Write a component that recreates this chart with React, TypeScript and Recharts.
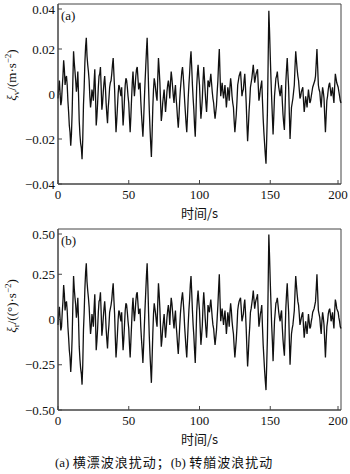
import { LineChart, Line, XAxis, YAxis, ReferenceArea } from 'recharts'

// time axis, one sample per second
const TIME = Array.from({ length: 201 }, (_, i) => i)

// (a) sway wave disturbance, in units of 0.001 m/s^2, at whole seconds
const SWAY = [
  -2, 6, -5, 3, 15, 4, 8, -3, -14, -23, -8, 19, 10, 1, 10, -12, -22, -29, -5, 14,
  25, 13, 6, -6, 2, -3, 11, -14, -4, 8, 12, -7, 1, 8, -4, -13, -2, 5, 9, 16,
  2, -17, -6, 4, 1, 3, -14, -2, 7, 3, -4, -17, -2, 10, -1, 8, 12, 2, 5, -9,
  -19, -3, 12, 25, 3, -15, -28, -6, 7, 2, -3, 16, 5, -12, -4, 2, -8, 1, 6, -2,
  10, 3, -4, 4, -6, -15, -3, 6, 12, 3, -8, -17, -2, 9, 19, 4, -7, -19, 3, 13,
  4, -11, -2, 12, 1, -8, 6, 3, 9, 1, -4, -11, -5, 6, 20, -1, 5, -2, 4, -6,
  3, -3, 7, -1, -6, -17, -9, 4, 8, 10, -1, 2, 9, -4, -21, -8, 3, 7, 13, 5,
  9, 11, -3, 2, 6, -11, -22, -31, -8, 37, 17, -2, -18, -1, 7, 10, 3, -1, 4, -9,
  -16, 5, 16, 3, -20, -6, -2, 4, 19, 11, 6, -2, 1, 3, -8, -1, -6, 2, -4, -1,
  3, 5, 8, 20, 4, 1, -6, 3, -2, -17, -3, 2, 5, -1, 3, -4, 9, 5, 3, -1,
  -4,
]
// same signal at the half seconds
const SWAY_MID = [
  3, 0, -3, 8, 11, 7, 4, -8, -17, -18, 6, 14, 6, 4, 0, -18, -24, -20, 3, 21,
  17, 10, -1, -3, 0, 5, 0, -10, 3, 9, 3, -4, 5, 3, -9, -6, 3, 6, 13, 9,
  -8, -12, 0, 3, -1, -6, -9, 4, 6, -1, -11, -10, 5, 4, 3, 11, 7, 4, -3, -14,
  -12, 5, 19, 15, -7, -22, -18, 2, 5, -1, 7, 11, -4, -9, -1, -3, -4, 4, 3, 5,
  7, -1, 1, -2, -11, -10, 2, 10, 8, -3, -13, -10, 4, 15, 12, -2, -14, -9, 9, 8,
  -4, -7, 6, 7, -4, -2, 5, 6, 5, -2, -8, -8, 1, 14, 9, 2, 1, 1, -1, -2,
  1, 3, 4, -4, -12, -13, -3, 6, 9, 5, 1, 6, 3, -13, -15, -3, 5, 10, 9, 7,
  10, 4, -1, 4, -3, -17, -27, -20, 14, 28, 7, -10, -10, 3, 8, 6, 1, 2, -3, -13,
  -6, 11, 9, -9, -13, -4, 1, 12, 15, 8, 2, -1, 2, -3, -5, -3, -2, -1, -3, 1,
  4, 6, 14, 12, 2, -3, -1, 1, -10, -10, -1, 4, 2, 1, -1, 3, 7, 4, 1, -3,
]

// (b) yaw wave disturbance, in units of 0.01 (°)/s^2, at whole seconds
const YAW = [
  -3, 7, -6, 4, 19, 5, 10, -4, -17, -29, -10, 24, 12, 1, 12, -15, -27, -36, -6, 17,
  31, 16, 7, -8, 3, -4, 14, -17, -5, 10, 15, -9, 1, 10, -5, -16, -3, 6, 11, 20,
  3, -21, -8, 5, 1, 4, -17, -3, 9, 4, -5, -21, -3, 12, -1, 10, 15, 3, 6, -11,
  -24, -4, 15, 31, 4, -19, -35, -8, 9, 3, -4, 20, 6, -15, -5, 3, -10, 1, 8, -3,
  12, 4, -5, 5, -8, -19, -4, 8, 15, 4, -10, -21, -3, 11, 24, 5, -9, -24, 4, 16,
  5, -14, -3, 15, 1, -10, 8, 4, 11, 1, -5, -14, -6, 8, 25, -1, 6, -3, 5, -8,
  4, -4, 9, -1, -8, -21, -11, 5, 10, 12, -1, 3, 11, -5, -26, -10, 4, 9, 16, 6,
  11, 14, -4, 3, 8, -14, -28, -39, -10, 47, 21, -3, -23, -1, 9, 12, 4, -1, 5, -11,
  -20, 6, 20, 4, -25, -8, -3, 5, 24, 14, 8, -3, 1, 4, -10, -1, -8, 3, -5, -1,
  4, 6, 10, 25, 5, 1, -8, 4, -3, -21, -4, 3, 6, -1, 4, -5, 11, 6, 4, -1,
  -5,
]
const YAW_MID = [
  4, 0, -4, 10, 14, 9, 5, -10, -21, -22, 8, 17, 8, 5, 0, -22, -30, -25, 4, 26,
  21, 12, -1, -4, 0, 6, 0, -12, 4, 11, 4, -5, 6, 4, -11, -8, 4, 8, 16, 11,
  -10, -15, 0, 4, -1, -8, -11, 5, 8, -1, -14, -12, 6, 5, 4, 14, 9, 5, -4, -17,
  -15, 6, 24, 19, -9, -27, -22, 3, 6, -1, 9, 14, -5, -11, -1, -4, -5, 5, 4, 6,
  9, -1, 1, -3, -14, -12, 3, 12, 10, -4, -16, -12, 5, 19, 15, -3, -17, -11, 11, 10,
  -5, -9, 8, 9, -5, -3, 6, 8, 6, -3, -10, -10, 1, 17, 11, 3, 1, 1, -1, -3,
  1, 4, 5, -5, -15, -16, -4, 8, 11, 6, 1, 8, 4, -16, -19, -4, 6, 12, 11, 9,
  12, 5, -1, 5, -4, -21, -34, -25, 17, 35, 9, -12, -12, 4, 10, 8, 1, 3, -4, -16,
  -8, 14, 11, -11, -16, -5, 1, 15, 19, 10, 3, -1, 3, -4, -6, -4, -3, -1, -4, 1,
  5, 8, 17, 15, 3, -4, -1, 1, -12, -12, -1, 5, 3, 1, -1, 4, 9, 5, 1, -4,
]

const X_TICKS = [0, 50, 100, 150, 200]
const SWAY_TICKS = [-0.04, -0.02, 0, 0.02, 0.04]
const SWAY_LABELS = ['−0.04', '−0.02', '0', '0.02', '0.04']
const YAW_TICKS = [-0.5, -0.25, 0, 0.25, 0.5]
const YAW_LABELS = ['−0.50', '−0.25', '0', '0.25', '0.50']

const SERIF = '"Liberation Serif", "Times New Roman", serif'
const CJK = '"Noto Sans CJK SC", sans-serif'
const FRAME = '#444'

function buildRows(whole: number[], mid: number[], scale: number) {
  const rows: { t: number; v: number }[] = []
  TIME.forEach((t, i) => {
    rows.push({ t, v: whole[i] * scale })
    if (i < mid.length) rows.push({ t: t + 0.5, v: mid[i] * scale })
  })
  return rows
}

const swayData = buildRows(SWAY, SWAY_MID, 0.001)
const yawData = buildRows(YAW, YAW_MID, 0.01)

const XTick = (props: any) => {
  const { x, y, payload } = props
  const axisY = y - 4
  return (
    <g>
      <line x1={x} x2={x} y1={axisY} y2={axisY - 4} stroke={FRAME} />
      <text x={x} y={axisY + 15} textAnchor="middle" fontSize={13} fontFamily={SERIF} fill="#111">
        {payload.value}
      </text>
    </g>
  )
}

const makeYTick = (ticks: number[], labels: string[]) => (props: any) => {
  const { x, y, payload } = props
  const axisX = x + 3
  const idx = ticks.indexOf(payload.value)
  return (
    <g>
      <line x1={axisX} x2={axisX + 4} y1={y} y2={y} stroke={FRAME} />
      <text x={x} y={y + 4.5} textAnchor="end" fontSize={13} fontFamily={SERIF} fill="#111">
        {labels[idx]}
      </text>
    </g>
  )
}

function Panel({ data, ticks, labels, height }: { data: any[]; ticks: number[]; labels: string[]; height: number }) {
  const lo = ticks[0]
  const hi = ticks[ticks.length - 1]
  return (
    <LineChart width={350} height={height} data={data} margin={{ top: 4, right: 9, left: 0, bottom: 0 }}>
      <XAxis
        type="number"
        dataKey="t"
        domain={[0, 200]}
        ticks={X_TICKS}
        tickSize={0}
        tickMargin={4}
        tick={XTick}
        axisLine={{ stroke: FRAME }}
        height={40}
        label={{
          content: (p: any) => {
            const vb = p.viewBox
            return (
              <text x={vb.x + vb.width / 2} y={vb.y + 34} textAnchor="middle" fontSize={13} fontFamily={CJK} fill="#111">
                时间/s
              </text>
            )
          },
        }}
      />
      <YAxis
        type="number"
        domain={[lo, hi]}
        ticks={ticks}
        tickSize={0}
        tickMargin={3}
        tick={makeYTick(ticks, labels)}
        axisLine={{ stroke: FRAME }}
        width={58}
        allowDataOverflow
      />
      <ReferenceArea x1={0} x2={200} y1={lo} y2={hi} fill="none" stroke={FRAME} strokeWidth={1} ifOverflow="visible" />
      <Line type="linear" dataKey="v" stroke="#111" strokeWidth={1.3} dot={false} isAnimationActive={false} />
    </LineChart>
  )
}

export default function App() {
  return (
    <div style={{ position: 'absolute', left: 0, top: 0, width: 350, height: 474, background: '#fff' }}>
      <div style={{ position: 'absolute', left: 0, top: 0 }}>
        <Panel data={swayData} ticks={SWAY_TICKS} labels={SWAY_LABELS} height={224} />
      </div>
      <div style={{ position: 'absolute', left: 0, top: 225 }}>
        <Panel data={yawData} ticks={YAW_TICKS} labels={YAW_LABELS} height={225} />
      </div>

      {/* axis titles and panel tags */}
      <svg width={350} height={474} style={{ position: 'absolute', left: 0, top: 0, pointerEvents: 'none' }}>
        <text x={61} y={20} fontSize={13} fontFamily={SERIF} fill="#111">(a)</text>
        <text x={61} y={245} fontSize={13} fontFamily={SERIF} fill="#111">(b)</text>
        <text transform="translate(16,75) rotate(-90)" textAnchor="middle" fontSize={13} fontFamily={SERIF} fill="#111">
          <tspan fontStyle="italic">ξ</tspan>
          <tspan fontSize={9} dy={3}>v</tspan>
          <tspan dy={-3}>/(m·s</tspan>
          <tspan fontSize={9} dy={-5}>−2</tspan>
          <tspan dy={5}>)</tspan>
        </text>
        <text transform="translate(16,306) rotate(-90)" textAnchor="middle" fontSize={13} fontFamily={SERIF} fill="#111">
          <tspan fontStyle="italic">ξ</tspan>
          <tspan fontSize={9} dy={3}>r</tspan>
          <tspan dy={-3}>/((°)·s</tspan>
          <tspan fontSize={9} dy={-5}>−2</tspan>
          <tspan dy={5}>)</tspan>
        </text>
      </svg>

      <div
        style={{
          position: 'absolute',
          left: 55,
          top: 452,
          fontSize: 13,
          fontFamily: SERIF,
          color: '#111',
          whiteSpace: 'nowrap',
        }}
      >
        (a) <span style={{ fontFamily: CJK, letterSpacing: 1 }}>横漂波浪扰动；</span>(b){' '}
        <span style={{ fontFamily: CJK, letterSpacing: 1 }}>转艏波浪扰动</span>
      </div>
    </div>
  )
}
